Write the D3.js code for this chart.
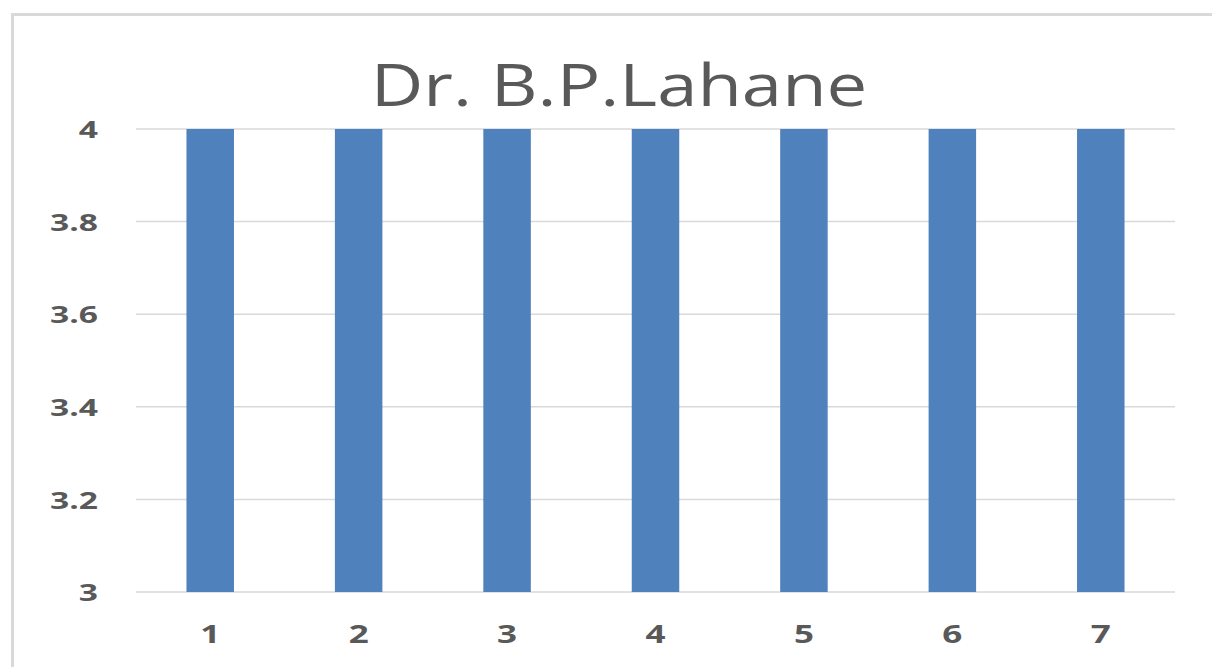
<!DOCTYPE html>
<html>
<head>
<meta charset="utf-8">
<script src="https://cdn.jsdelivr.net/npm/d3@7"></script>
<style>
  body { margin: 0; background: #fff; }
  svg { display: block; }
  .tick text { font-family: "Open Sans", sans-serif; font-weight: bold; fill: #595959; }
</style>
</head>
<body>
<div id="chart"></div>
<script>
var width = 1212,
	height = 667;

// data
var categories = ["1", "2", "3", "4", "5", "6", "7"];
var values = [4, 4, 4, 4, 4, 4, 4];
var yTicks = [3, 3.2, 3.4, 3.6, 3.8, 4];
var title = "Dr. B.P.Lahane";

var plot = { left: 136, right: 1175, top: 129, bottom: 592 };
// the reference picture is stretched sideways
var stretch = 1.4;

var svg = d3.select("#chart")
	.append("svg")
	.attr("width", width)
	.attr("height", height);

// chart border (runs off the right and bottom of the frame)
svg.append("rect")
	.attr("x", 12.5)
	.attr("y", 14.5)
	.attr("width", width + 20)
	.attr("height", height + 20)
	.attr("fill", "none")
	.attr("stroke", "#d9d9d9")
	.attr("stroke-width", 3);

var x = d3.scaleBand()
	.domain(categories)
	.range([plot.left, plot.right])
	.paddingInner(0.68)
	.paddingOuter(0.34);

var y = d3.scaleLinear()
	.domain([3, 4])
	.range([plot.bottom, plot.top]);

// gridlines
svg.append("g")
	.selectAll("line")
	.data(yTicks)
	.enter()
	.append("line")
	.attr("x1", plot.left)
	.attr("x2", plot.right)
	.attr("y1", function(d) { return y(d); })
	.attr("y2", function(d) { return y(d); })
	.attr("stroke", "#d9d9d9")
	.attr("stroke-width", 1.5);

// bars
svg.append("g")
	.selectAll("rect")
	.data(values)
	.enter()
	.append("rect")
	.attr("x", function(d, i) { return x(categories[i]); })
	.attr("y", function(d) { return y(d); })
	.attr("width", x.bandwidth())
	.attr("height", function(d) { return y(3) - y(d); })
	.attr("fill", "#4f81bd");

// y axis labels
var yAxis = svg.append("g")
	.attr("transform", "translate(" + 98 + ",0)")
	.call(d3.axisLeft(y).tickValues(yTicks).tickSize(0).tickPadding(0)
		.tickFormat(function(d) { return d === 3 || d === 4 ? d3.format("d")(d) : d3.format(".1f")(d); }));
yAxis.select(".domain").remove();
yAxis.selectAll("text")
	.attr("font-size", 24)
	.attr("dy", "0.36em")
	.attr("transform", "scale(" + stretch + ",1)");

// x axis labels
var xAxis = svg.append("g")
	.attr("transform", "translate(0," + 625 + ")")
	.call(d3.axisBottom(x).tickSize(0).tickPadding(0));
xAxis.select(".domain").remove();
xAxis.selectAll("text")
	.attr("font-size", 25)
	.attr("dy", "0.7em")
	.attr("transform", "scale(" + stretch + ",1)");

// title
svg.append("g")
	.attr("transform", "translate(619,106) scale(1.25,1)")
	.append("text")
	.attr("text-anchor", "middle")
	.attr("font-family", "'Open Sans', sans-serif")
	.attr("font-size", 58)
	.attr("fill", "#595959")
	.text(title);
</script>
</body>
</html>
